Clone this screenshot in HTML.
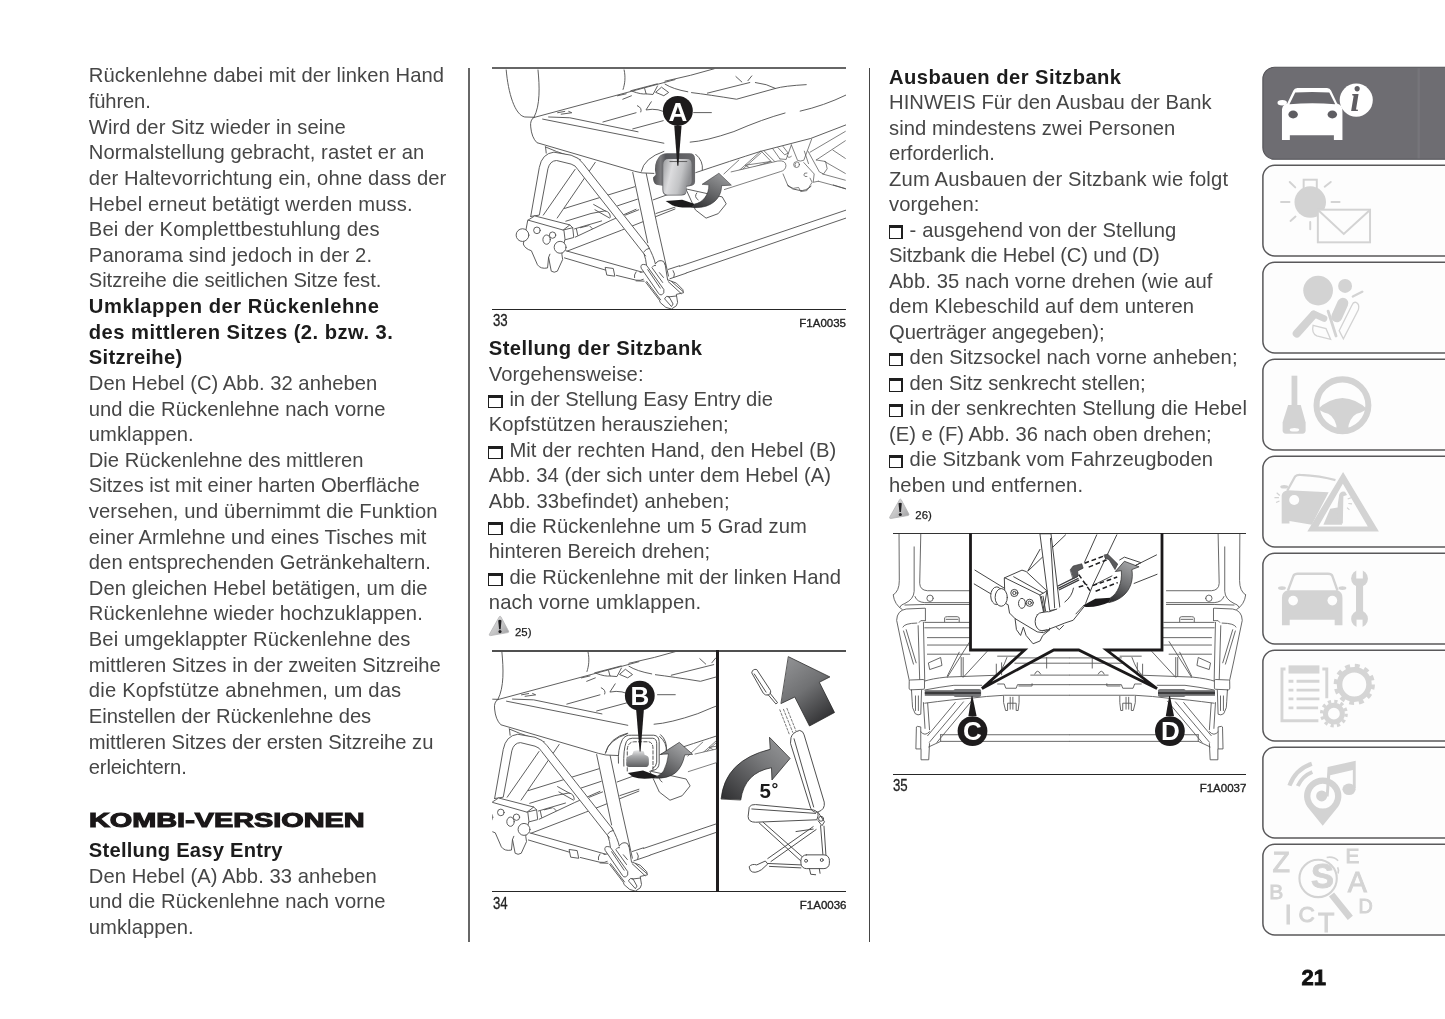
<!DOCTYPE html>
<html lang="de"><head><meta charset="utf-8"><title>21</title>
<style>
html,body{margin:0;padding:0;background:#fff;overflow:hidden}
#pg{position:relative;width:1445px;height:1019px;overflow:hidden;will-change:transform;font-family:"Liberation Sans",sans-serif;color:#464646}
.t,.tb{position:absolute;white-space:pre;font-size:20.2px;line-height:0;height:0}
.tb{font-weight:bold;color:#1c1c1c}
.bx{position:absolute;display:block;box-sizing:border-box;width:14.6px;height:13.4px;border:1.3px solid #1e1e1e;border-top-width:3px;border-right-width:2.6px}
.vl{position:absolute;width:1px;background:#555}
.hl{position:absolute;height:1.6px;background:#3c3c3c}
.cap{position:absolute;font-size:13px;line-height:0;height:0;white-space:pre;color:#222}
.capn{position:absolute;font-size:17px;line-height:0;height:0;white-space:pre;color:#222;transform-origin:left;transform:scaleX(.78);-webkit-text-stroke:.3px #222}
svg{position:absolute;overflow:visible}
</style></head><body><div id="pg">

<!-- text -->
<div class='t' style='left:88.8px;top:75.4px;letter-spacing:0.078px'>Rückenlehne dabei mit der linken Hand</div>
<div class='t' style='left:88.8px;top:101.0px;letter-spacing:-0.143px'>führen.</div>
<div class='t' style='left:88.8px;top:126.6px;letter-spacing:0.042px'>Wird der Sitz wieder in seine</div>
<div class='t' style='left:88.8px;top:152.3px;letter-spacing:0.091px'>Normalstellung gebracht, rastet er an</div>
<div class='t' style='left:88.8px;top:177.9px;letter-spacing:0.105px'>der Haltevorrichtung ein, ohne dass der</div>
<div class='t' style='left:88.8px;top:203.5px;letter-spacing:0.157px'>Hebel erneut betätigt werden muss.</div>
<div class='t' style='left:88.8px;top:229.1px;letter-spacing:0.156px'>Bei der Komplettbestuhlung des</div>
<div class='t' style='left:88.8px;top:254.7px;letter-spacing:0.133px'>Panorama sind jedoch in der 2.</div>
<div class='t' style='left:88.8px;top:280.4px;letter-spacing:-0.075px'>Sitzreihe die seitlichen Sitze fest.</div>
<div class='tb' style='left:88.8px;top:306.0px;letter-spacing:0.545px'>Umklappen der Rückenlehne</div>
<div class='tb' style='left:88.8px;top:331.6px;letter-spacing:0.461px'>des mittleren Sitzes (2. bzw. 3.</div>
<div class='tb' style='left:88.8px;top:357.2px;letter-spacing:0.281px'>Sitzreihe)</div>
<div class='t' style='left:88.8px;top:382.8px;letter-spacing:0.039px'>Den Hebel (C) Abb. 32 anheben</div>
<div class='t' style='left:88.8px;top:408.5px;letter-spacing:0.052px'>und die Rückenlehne nach vorne</div>
<div class='t' style='left:88.8px;top:434.1px;letter-spacing:0.058px'>umklappen.</div>
<div class='t' style='left:88.8px;top:459.7px;letter-spacing:-0.011px'>Die Rückenlehne des mittleren</div>
<div class='t' style='left:88.8px;top:485.3px;letter-spacing:-0.005px'>Sitzes ist mit einer harten Oberfläche</div>
<div class='t' style='left:88.8px;top:510.9px;letter-spacing:0.120px'>versehen, und übernimmt die Funktion</div>
<div class='t' style='left:88.8px;top:536.6px;letter-spacing:0.062px'>einer Armlehne und eines Tisches mit</div>
<div class='t' style='left:88.8px;top:562.2px;letter-spacing:0.062px'>den entsprechenden Getränkehaltern.</div>
<div class='t' style='left:88.8px;top:587.8px;letter-spacing:0.057px'>Den gleichen Hebel betätigen, um die</div>
<div class='t' style='left:88.8px;top:613.4px;letter-spacing:0.126px'>Rückenlehne wieder hochzuklappen.</div>
<div class='t' style='left:88.8px;top:639.0px;letter-spacing:0.093px'>Bei umgeklappter Rückenlehne des</div>
<div class='t' style='left:88.8px;top:664.7px;letter-spacing:-0.008px'>mittleren Sitzes in der zweiten Sitzreihe</div>
<div class='t' style='left:88.8px;top:690.3px;letter-spacing:0.201px'>die Kopfstütze abnehmen, um das</div>
<div class='t' style='left:88.8px;top:715.9px;letter-spacing:-0.053px'>Einstellen der Rückenlehne des</div>
<div class='t' style='left:88.8px;top:741.5px;letter-spacing:-0.025px'>mittleren Sitzes der ersten Sitzreihe zu</div>
<div class='t' style='left:88.8px;top:767.1px;letter-spacing:-0.170px'>erleichtern.</div>
<div class='tb' style='left:88.8px;top:849.9px;letter-spacing:0.234px'>Stellung Easy Entry</div>
<div class='t' style='left:88.8px;top:875.5px;letter-spacing:0.061px'>Den Hebel (A) Abb. 33 anheben</div>
<div class='t' style='left:88.8px;top:901.1px;letter-spacing:0.052px'>und die Rückenlehne nach vorne</div>
<div class='t' style='left:88.8px;top:926.8px;letter-spacing:0.058px'>umklappen.</div>
<div class='tb' style='left:488.8px;top:348.2px;letter-spacing:0.391px'>Stellung der Sitzbank</div>
<div class='t' style='left:488.8px;top:373.6px;letter-spacing:0.067px'>Vorgehensweise:</div>
<i class='bx' style='left:488.4px;top:394.7px'></i><div class='t' style='left:509.4px;top:399.0px;letter-spacing:-0.046px'>in der Stellung Easy Entry die</div>
<div class='t' style='left:488.8px;top:424.4px;letter-spacing:0.027px'>Kopfstützen herausziehen;</div>
<i class='bx' style='left:488.4px;top:445.5px'></i><div class='t' style='left:509.4px;top:449.8px;letter-spacing:0.077px'>Mit der rechten Hand, den Hebel (B)</div>
<div class='t' style='left:488.8px;top:475.2px;letter-spacing:0.062px'>Abb. 34 (der sich unter dem Hebel (A)</div>
<div class='t' style='left:488.8px;top:500.6px;letter-spacing:0.114px'>Abb. 33befindet) anheben;</div>
<i class='bx' style='left:488.4px;top:521.7px'></i><div class='t' style='left:509.4px;top:526.0px;letter-spacing:0.085px'>die Rückenlehne um 5 Grad zum</div>
<div class='t' style='left:488.8px;top:551.4px;letter-spacing:0.013px'>hinteren Bereich drehen;</div>
<i class='bx' style='left:488.4px;top:572.5px'></i><div class='t' style='left:509.4px;top:576.8px;letter-spacing:0.049px'>die Rückenlehne mit der linken Hand</div>
<div class='t' style='left:488.8px;top:602.2px;letter-spacing:0.127px'>nach vorne umklappen.</div>
<div class='tb' style='left:889.0px;top:76.5px;letter-spacing:0.443px'>Ausbauen der Sitzbank</div>
<div class='t' style='left:889.0px;top:102.0px;letter-spacing:0.056px'>HINWEIS Für den Ausbau der Bank</div>
<div class='t' style='left:889.0px;top:127.5px;letter-spacing:0.085px'>sind mindestens zwei Personen</div>
<div class='t' style='left:889.0px;top:153.0px;letter-spacing:-0.058px'>erforderlich.</div>
<div class='t' style='left:889.0px;top:178.5px;letter-spacing:0.168px'>Zum Ausbauen der Sitzbank wie folgt</div>
<div class='t' style='left:889.0px;top:204.1px;letter-spacing:0.063px'>vorgehen:</div>
<i class='bx' style='left:888.6px;top:225.3px'></i><div class='t' style='left:909.6px;top:229.6px;letter-spacing:0.106px'>- ausgehend von der Stellung</div>
<div class='t' style='left:889.0px;top:255.1px;letter-spacing:-0.141px'>Sitzbank die Hebel (C) und (D)</div>
<div class='t' style='left:889.0px;top:280.6px;letter-spacing:0.110px'>Abb. 35 nach vorne drehen (wie auf</div>
<div class='t' style='left:889.0px;top:306.1px;letter-spacing:0.144px'>dem Klebeschild auf dem unteren</div>
<div class='t' style='left:889.0px;top:331.6px;letter-spacing:-0.048px'>Querträger angegeben);</div>
<i class='bx' style='left:888.6px;top:352.8px'></i><div class='t' style='left:909.6px;top:357.1px;letter-spacing:0.074px'>den Sitzsockel nach vorne anheben;</div>
<i class='bx' style='left:888.6px;top:378.3px'></i><div class='t' style='left:909.6px;top:382.6px;letter-spacing:0.013px'>den Sitz senkrecht stellen;</div>
<i class='bx' style='left:888.6px;top:403.8px'></i><div class='t' style='left:909.6px;top:408.1px;letter-spacing:0.048px'>in der senkrechten Stellung die Hebel</div>
<div class='t' style='left:889.0px;top:433.6px;letter-spacing:-0.018px'>(E) e (F) Abb. 36 nach oben drehen;</div>
<i class='bx' style='left:888.6px;top:454.9px'></i><div class='t' style='left:909.6px;top:459.2px;letter-spacing:0.091px'>die Sitzbank vom Fahrzeugboden</div>
<div class='t' style='left:889.0px;top:484.7px;letter-spacing:0.108px'>heben und entfernen.</div>
<!-- column separators -->
<div class="vl" style="left:468.1px;width:1.8px;top:67.5px;height:874.3px;background:#676767"></div>
<div class="vl" style="left:868.7px;width:1.35px;top:67.5px;height:874.3px;background:#454545"></div>
<div class="t" style="left:88.7px;top:820.4px;font-size:19.8px;font-weight:bold;color:#1a1718;transform-origin:left;transform:scaleX(1.458);-webkit-text-stroke:1.05px #1a1718">KOMBI-VERSIONEN</div>
<div class="t" style="left:1301.5px;top:978.0px;font-size:22px;font-weight:bold;color:#111;-webkit-text-stroke:.8px #111">21</div>
<!-- warning icons -->
<svg style="left:0;top:0" width="1445" height="1019" viewBox="0 0 1445 1019">
<defs>
<linearGradient id="wg" x1="0" y1="0" x2="1" y2="1"><stop offset="0" stop-color="#e4e4e4"/><stop offset=".55" stop-color="#c4c4c5"/><stop offset="1" stop-color="#9c9c9e"/></linearGradient>
<g id="warn">
<path d="M10.4,0.6Q11.2,-.3 11.9,.8L19.6,15.2Q20,16.3 18.8,16.6L1.6,19.6Q-.1,19.7 .4,18.3Z" fill="url(#wg)" stroke="#b3b3b4" stroke-width=".8"/>
<path d="M9.2,4.4Q10.9,3.2 12.5,4.4L11.7,13.2H10.1Z" fill="#222123"/><circle cx="11" cy="15.6" r="1.55" fill="#222123"/>
</g>
</defs>
<use href="#warn" x="489" y="616"/>
<use href="#warn" x="889.3" y="498.9"/>
</svg>
<div class="t" style="left:515px;top:632.1px;font-size:11.4px;color:#1c1c1c;-webkit-text-stroke:.25px #1c1c1c">25)</div>
<div class="t" style="left:915.3px;top:514.7px;font-size:11.4px;color:#1c1c1c;-webkit-text-stroke:.25px #1c1c1c">26)</div>

<!-- FIG 33 -->
<div class="hl" style="left:492.2px;top:67.1px;width:354px;height:1.9px;background:#666"></div>
<div class="hl" style="left:492.3px;top:308.8px;width:353.7px;height:1.4px;background:#262626"></div>
<svg style="left:0;top:0" width="1445" height="1019" viewBox="0 0 1445 1019">
<defs>
<clipPath id="c33"><rect x="492.3" y="68.6" width="353.7" height="240.4"/></clipPath>
<linearGradient id="lvA" x1="0" y1="0" x2="1" y2="0"><stop offset="0" stop-color="#4e4e50"/><stop offset=".18" stop-color="#7d7d80"/><stop offset=".3" stop-color="#55565a"/><stop offset="1" stop-color="#6a6a6d"/></linearGradient>
<linearGradient id="lvB" x1="0" y1="0" x2="1" y2=".3"><stop offset="0" stop-color="#9b9c9f"/><stop offset=".35" stop-color="#dcdcde"/><stop offset=".7" stop-color="#c2c3c5"/><stop offset="1" stop-color="#8e8f92"/></linearGradient>
<linearGradient id="arG" x1="0" y1="1" x2=".6" y2="0"><stop offset="0" stop-color="#2e2e30"/><stop offset=".5" stop-color="#626365"/><stop offset="1" stop-color="#929395"/></linearGradient>
<g id="seat33">
<!-- frame, mid-left coords (origin 485,125) -->
<g transform="translate(485,125) scale(.1325)">
<!-- back rails -->
<path d="M600,630L1130,466M1000,610L1150,560M1060,680L1160,640M1270,565L1434,505M1290,668L1434,620"/>
<path d="M610,726L800,668L906,648Q945,655 946,696M820,600L910,650M830,640L940,702M676,784L880,724M682,846L950,720L1140,636M620,952L1030,794L1434,634M690,785L700,832M790,762L810,782M720,775L780,760"/>
<path d="M455,165L540,200L720,262M457,166L462,212"/>
<!-- tube A (diagonal from bracket) -->
<path d="M440,680L680,335M545,702L832,282"/>
<!-- trapezoid + tube B -->
<path d="M345,690L410,320Q430,215 520,205L650,228Q710,245 740,290L1232,915L1226,1010L700,335Q685,305 650,295L540,268Q490,270 475,330L410,680Z" fill="#fff" stroke="none"/><path d="M345,690L410,320Q430,215 520,205L650,228Q710,245 740,290L1232,915M1212,988L700,335Q685,305 650,295L540,268Q490,270 475,330L410,680L345,690"/>
<!-- vertical leg -->
<path d="M1115,356L1217,366L1300,760L1385,1140L1290,1035L1228,889Z" fill="#fff" stroke="none"/>
<path d="M1115,358L1228,889M1217,366L1300,760L1385,1140"/>
<!-- bottom rail from bracket to hinge -->
<path d="M610,949L1180,1109M600,1003L910,1095M910,1075L968,1083L980,1141L922,1133ZM992,1135L1140,1171Q1175,1177 1195,1165"/>
<!-- bracket -->
<path d="M325,718L375,686L640,754L662,775L670,849L602,867L580,975L586,1015L546,1103Q522,1119 500,1103L480,999L472,1079Q420,1089 396,1055L350,949Q300,933 290,901Z" fill="#fff"/>
<path d="M325,718L590,793L640,754M590,793L662,775M596,798L604,863M490,975L480,999"/>
<circle cx="283" cy="831" r="48" fill="#fff"/><circle cx="392" cy="795" r="25"/><ellipse cx="465" cy="865" rx="28" ry="35"/><circle cx="510" cy="831" r="24"/><circle cx="567" cy="923" r="45" fill="#fff"/>
<!-- hinge bottom -->
</g>
<!-- Q1 top-left: cushion -->
<g transform="translate(485,60) scale(.1325)">
<path d="M160,75C175,250 225,415 300,430L370,432M400,75C412,200 418,340 370,432M1050,75C1062,130 1056,180 1042,222"/>
<path d="M362,436L1434,148M370,432Q338,452 345,505Q352,585 392,624L1130,840L1185,852L1275,856"/>
<path d="M480,430L640,436L1155,542M435,446L1350,628M548,398L602,388M575,409L655,398L632,388"/>
<path d="M890,468L1140,398M1115,520L1345,458M1000,270L1065,255M1040,296L1105,270M1150,345Q1188,362 1176,392M1255,315L1215,377L1262,372Q1310,372 1340,386"/>
<path d="M1100,232L1300,180M1112,236Q1180,262 1216,256M1205,215L1216,256L1268,260L1302,196M1290,242L1332,205L1386,245L1352,268Z"/>
<path d="M1180,840Q1200,740 1350,690"/>
</g>
<!-- Q2 top-right -->
<g transform="translate(665,60) scale(.1325)">
<path d="M0,160Q200,118 372,66M0,182Q60,220 172,240M200,246Q330,262 540,296L832,215Q900,195 1066,186M320,250L640,170M682,170Q770,180 835,215M535,125L580,166M655,120L626,156M216,397H350"/>
<path d="M190,620Q310,612 520,540Q740,445 906,400M1020,386Q1200,345 1365,265"/>
<path d="M232,850Q500,760 720,690L1100,592L1365,490"/>
<g transform="translate(264.15,452.8) scale(.7835)">
<path d="M230,520L375,385M345,515L585,300M410,475L590,315M440,435L680,400L490,465ZM590,300L690,405M620,300L720,400M700,275L770,375M750,265L815,335L850,320L800,255"/>
<path d="M1060,310L1400,110M1120,385L1400,200M1280,290L1400,370M1200,400L1400,515M1180,520L1400,580M1140,590L1400,660"/>
<path d="M300,500L750,395Q825,385 828,440Q825,485 775,497L235,670" fill="#fff"/>
<path d="M770,375L830,380L880,240M800,520L850,640Q900,672 950,650L970,690L1030,680L1080,600L1060,560M880,240L940,390Q965,402 1000,388L1075,185M1040,300L1150,500L1190,520L1225,470L1210,400L1120,385M1000,410L1100,520L1090,600L1140,590M1005,300L1045,420M840,345Q850,375 880,350"/>
<circle cx="930" cy="430" r="28"/><path d="M918,445Q905,425 925,412M1030,510Q1000,505 1000,530Q1005,550 1030,545"/>
</g>
<path d="M232,712Q290,760 282,830"/>
</g>
<!-- Q4 bottom-right -->
<g transform="translate(665,185) scale(.1325)">
<path d="M110,614L1365,190M160,664L1365,250"/>
<path d="M160,30L432,90L462,142L402,216L310,250L232,190ZM240,60Q215,90 250,112M925,0Q960,40 1012,40Q1060,50 1102,10M1270,0L1365,30"/>
</g>
<!-- hinge clasp: origin (620,230) scale 12.43 -->
<g transform="translate(620,230) scale(.08045)" stroke-width="11.6">
<path d="M300,300Q322,360 330,440M295,272Q320,236 366,226M345,190Q420,330 440,420M440,420Q480,360 540,390L562,432M400,462Q420,430 442,440M560,420L592,622"/>
<path d="M200,520Q170,560 180,592M250,526L292,520M200,632L300,636M660,505Q690,545 670,586M600,490L740,444M620,606L820,538"/>
<path d="M262,470Q250,430 290,428Q322,428 332,442L545,740Q556,790 520,806Q490,812 480,790Z" fill="#fff"/>
<path d="M345,492L500,722M400,472L530,652M490,530L540,590"/>
<path d="M320,650L490,872L500,902L570,962L640,982L700,942L716,900L700,800L790,780L780,740L700,660L600,622M332,640L505,868M600,642L760,790M640,640L780,762M560,842Q580,810 610,830L660,920L640,952L560,862ZM600,832L700,820"/>
</g>
</g>
</defs>
<g clip-path="url(#c33)" fill="none" stroke="#525252" stroke-width="7" stroke-linecap="round" stroke-linejoin="round">
<use href="#seat33"/>
<!-- lever + arrow (QM) -->
<g transform="translate(610,90) scale(.1325)" stroke="none">
<path d="M345,640Q326,560 368,505Q390,478 430,478H600Q642,478 642,520V690Q642,722 600,727L577,731V770Q572,797 540,797H430Q395,792 395,750V722L350,716Q324,700 325,660Z" fill="url(#lvA)"/>
<path d="M402,562Q402,520 442,520H580Q616,520 616,560V690Q616,716 590,721L575,723V765Q570,790 540,790H432Q402,786 402,750Z" fill="url(#lvB)"/>
<path d="M452,540H580" stroke="#555" stroke-width="7"/>
<path d="M420,838L545,828L640,860L620,886Q520,892 470,870Z" fill="#1b1a1b"/>
<path d="M620,886C745,900 842,832 842,722L916,718L822,628L695,712L746,716C748,790 700,852 640,860Z" fill="url(#arG)" stroke="#2a2a2b" stroke-width="4"/>
<circle cx="512" cy="158" r="113" fill="#1d1b1c"/>
<path d="M485,270H540L516,572H508Z" fill="#1d1b1c"/>
</g>
</g>
<text x="677.8" y="120.6" font-family="Liberation Sans, sans-serif" font-weight="bold" font-size="26" text-anchor="middle" fill="#fff">A</text>
</svg>
<div class="capn" style="left:492.5px;top:320.6px">33</div>
<div class="cap" style="left:746px;width:100px;text-align:right;top:322.7px;font-size:11.5px;-webkit-text-stroke:.35px #222">F1A0035</div>

<!-- FIG 34 -->
<div class="hl" style="left:492.3px;top:650px;width:354.2px;background:#505050"></div>
<div class="hl" style="left:492.3px;top:891.1px;width:354.2px;height:1.4px;background:#262626"></div>
<div style="position:absolute;left:716.3px;top:650px;width:3.1px;height:242px;background:#1f1d1e"></div>
<svg style="left:0;top:0" width="1445" height="1019" viewBox="0 0 1445 1019">
<defs>
<clipPath id="c34"><rect x="492.3" y="651.6" width="224" height="239.6"/></clipPath>
<linearGradient id="hB" x1="0" y1="0" x2="0" y2="1"><stop offset="0" stop-color="#e6e6e7"/><stop offset=".35" stop-color="#a9aaac"/><stop offset="1" stop-color="#5d5e60"/></linearGradient>
<linearGradient id="arB" x1="0" y1="1" x2=".7" y2="0"><stop offset="0" stop-color="#38383a"/><stop offset=".6" stop-color="#7c7d7f"/><stop offset="1" stop-color="#a5a6a8"/></linearGradient>
<linearGradient id="arUp" x1=".8" y1="1" x2=".2" y2="0"><stop offset="0" stop-color="#2c2c2e"/><stop offset=".55" stop-color="#707173"/><stop offset="1" stop-color="#8f9092"/></linearGradient>
<linearGradient id="arRot" x1="0" y1="1" x2="1" y2="0"><stop offset="0" stop-color="#2e2e30"/><stop offset=".6" stop-color="#77787a"/><stop offset="1" stop-color="#9a9b9d"/></linearGradient>
</defs>
<g clip-path="url(#c34)" fill="none" stroke="#525252" stroke-width="7" stroke-linecap="round" stroke-linejoin="round">
<use href="#seat33" transform="translate(-36.1,582.1)"/>
<!-- lever B area, coords origin (590,720) scale 10.193 -->
<g transform="translate(590,720) scale(.098107)" stroke-width="10">
<path d="M300,470Q278,300 330,200Q360,150 420,155H650Q702,160 705,220V440Q700,500 650,512L560,520H330Z" fill="#fff" stroke="none"/>
<path d="M290,440Q280,300 330,200Q360,150 420,155H650Q702,160 705,220V440Q700,500 650,512L622,516M345,470Q338,300 370,222Q385,186 430,186H640Q680,190 680,240V430Q676,480 640,492M720,150Q790,210 780,320M380,135Q200,180 160,330"/>
<path d="M380,520V300Q385,226 450,222H600Q642,230 642,290V520" stroke-dasharray="34 20"/>
<path d="M370,400Q380,370 430,355L445,315Q490,300 550,320L556,355Q600,365 600,400V450Q595,480 560,480H400Q365,476 370,440Z" fill="url(#hB)" stroke="none"/>
<path d="M385,540L540,514L690,570L655,592Q520,612 440,582Z" fill="#1b1a1b" stroke="none"/>
<path d="M655,592Q790,602 870,540Q940,480 966,356L1046,350L910,228L720,350L800,346Q790,440 750,520Q720,560 690,570Z" fill="url(#arB)" stroke="#222" stroke-width="6"/>
</g>
<circle cx="639.8" cy="695.7" r="14.9" fill="#1d1b1c" stroke="none"/>
<path d="M636,708H644L640.6,751.5H639.6Z" fill="#1d1b1c" stroke="none"/>
</g>
<text x="639.9" y="705" font-family="Liberation Sans, sans-serif" font-weight="bold" font-size="26" text-anchor="middle" fill="#fff">B</text>
<!-- right panel: origin (715,645) scale 4.074 -->
<g transform="translate(715,645) scale(.24546)" fill="none" stroke="#4c4c4c" stroke-width="4" stroke-linecap="round" stroke-linejoin="round">
<path d="M300,48L468,130L425,152L487,275L385,330L325,212L270,238Z" fill="url(#arUp)" stroke="#222" stroke-width="3"/>
<path d="M150,112Q153,96 170,100L226,185Q230,200 216,204Q205,206 198,198ZM216,202L248,240L255,235L224,196M160,118L208,192" />
<path d="M264,264L302,362M279,262L317,356M293,258L330,350" stroke-dasharray="9 7" stroke="#777"/>
<path d="M310,376Q315,356 345,348Q359,350 363,366L445,640Q450,670 420,680Q400,686 390,665L308,402ZM322,382L402,660"/>
<path d="M25,626Q40,470 225,425L222,376L306,462L232,550L230,500Q120,520 105,630Z" fill="url(#arRot)" stroke="#222" stroke-width="3"/>
<path d="M140,660Q145,648 165,650L400,672Q421,676 420,696L415,712L165,722Q135,722 135,700ZM150,668L410,686"/>
<circle cx="432" cy="708" r="10"/><path d="M420,682L446,720L436,736L420,716"/>
<path d="M180,725L350,880M196,722L366,872M400,740L215,870M412,752L228,882M430,736L440,860M444,738L452,858M215,890L352,896M222,902L350,908M330,760L400,750"/>
<rect x="350" y="855" width="116" height="56" rx="22" fill="#fff"/><circle cx="371" cy="879" r="6"/><circle cx="435" cy="876" r="6"/>
<path d="M385,912L390,934L410,936M425,912L428,930M140,902Q150,890 170,896L205,880L215,892L190,915Q160,935 145,920Z"/>
</g>
<text x="759.6" y="798.3" font-family="Liberation Sans, sans-serif" font-weight="bold" font-size="20.5" fill="#1a1a1a">5</text>
<text x="771.6" y="794.5" font-family="Liberation Sans, sans-serif" font-weight="bold" font-size="17" fill="#1a1a1a">°</text>
</svg>
<div class="capn" style="left:492.5px;top:903.6px">34</div>
<div class="cap" style="left:746.5px;width:100px;text-align:right;top:905.4px;font-size:11.5px;-webkit-text-stroke:.35px #222">F1A0036</div>

<!-- FIG 35 -->
<div class="hl" style="left:892.6px;top:532.5px;width:353.8px;height:1.5px;background:#333"></div>
<div class="hl" style="left:892.6px;top:773.9px;width:353.8px;height:1.4px;background:#262626"></div>
<svg style="left:0;top:0" width="1445" height="1019" viewBox="0 0 1445 1019">
<defs>
<clipPath id="c35"><rect x="892.6" y="534" width="353.8" height="240"/></clipPath>
<clipPath id="c35b"><rect x="972" y="534" width="188.4" height="114.4"/></clipPath>
<linearGradient id="arC" x1=".2" y1="1" x2=".6" y2="0"><stop offset="0" stop-color="#2f2f31"/><stop offset=".5" stop-color="#6f7072"/><stop offset="1" stop-color="#a2a3a5"/></linearGradient>
<!-- left half of background, coords: origin (885,525) scale 7.547 ; P3 y = P1 y - 943.4 -->
<g id="bg35">
<g transform="translate(885,525) scale(.1325)">
<path d="M106,70L108,420Q108,500 62,528M62,528Q70,600 130,638M220,165V500Q218,560 150,592Q120,600 112,620M270,70L262,440Q264,492 320,496H660M226,540Q240,582 300,586H660M150,604L300,600H660"/>
<circle cx="340" cy="553" r="24"/>
<path d="M300,628L160,634Q90,645 88,720L150,1019L200,1250M135,770Q145,742 240,740M140,800L215,1050M160,790L235,1040"/>
<path d="M305,630V722M258,735L270,722L300,722M250,760L262,1175M290,735L300,1175"/>
<path d="M450,730V700Q455,692 470,692H545Q560,694 560,702V730M462,712H550"/>
<path d="M300,735H680M300,776H700M320,850H700M320,906H680M320,975H640"/>
<path d="M640,880L470,1150M770,955L590,1150M560,960L470,1140M330,1040L420,1000L430,1060L340,1090Z"/>
<!-- joint and post (P3 + 943.4) -->
<path d="M182,1180Q180,1172 190,1170L290,1166Q298,1168 298,1178V1232Q296,1240 288,1240L192,1244Q182,1242 182,1234Z" fill="#fff"/>
<path d="M200,1246L205,1330Q200,1380 228,1424Q250,1440 270,1428L276,1246M230,1290V1400M252,1290V1400"/>
<path d="M290,1340L302,1535M322,1345L336,1545M236,1530Q234,1522 244,1520L270,1524V1690H236ZM270,1560Q300,1600 336,1560M272,1692V1772H330L336,1650"/>
<!-- main beam -->
<path d="M300,1178Q350,1160 462,1148L840,1134Q880,1110 920,1000M300,1245Q420,1222 520,1210H730M300,1345Q500,1318 640,1308Q760,1292 900,1285H1391"/>
<path d="M840,1134V1050M880,1040V1130M590,1000V1140M575,1000V1140"/>
<path d="M850,1200H900L912,1232H990L1000,1205H1391M1010,1215H1110V1198M1000,1003H1391M980,1043H1391M1100,1133H1391M1130,1125Q1150,1080 1175,1125M1220,1000V1080M850,990H1010"/>
<path d="M895,1292V1340L910,1400H925V1345H990V1400H1005L1012,1340V1292M945,1300V1390M965,1300V1390"/>
<!-- bottom bar -->
<path d="M420,1583H1391M420,1633H1391M420,1583V1633L330,1675M592,1335L335,1640M530,1340L322,1590M652,1330L392,1640"/>
</g>
</g>
</defs>
<g clip-path="url(#c35)" fill="none" stroke="#585858" stroke-width="6.8" stroke-linecap="round" stroke-linejoin="round">
<use href="#bg35"/>
<use href="#bg35" transform="translate(2138.9,0) scale(-1,1)"/>
<!-- handles -->
<g stroke="none">
<rect x="924.8" y="690.2" width="56" height="5.6" fill="#6b6b6d"/><rect x="953.5" y="689" width="27.6" height="8" rx="2" fill="#77787a"/><rect x="924.8" y="692.2" width="56" height="1.6" fill="#2e2e30"/>
<rect x="1158" y="690.2" width="57" height="5.6" fill="#6b6b6d"/><rect x="1158" y="689" width="27.6" height="8" rx="2" fill="#77787a"/><rect x="1158" y="692.2" width="57" height="1.6" fill="#2e2e30"/>
</g>
</g>
<!-- callout box -->
<rect x="970.5" y="534" width="191.5" height="116" fill="#fff" stroke="none"/>
<g clip-path="url(#c35b)" fill="none" stroke="#454545" stroke-width="7.2" stroke-linecap="round" stroke-linejoin="round">
<g transform="translate(968,530) scale(.138408)">
<path d="M50,290L262,420M45,390L200,482M705,35L435,295M520,140L432,296M930,35L842,232M1075,35L900,402"/>
<path d="M1190,266L1362,180M1200,386L1366,320M1096,216L1130,196L1250,236L1200,262"/>
<!-- vertical leg -->
<path d="M520,30L590,582L665,570L600,30Z" fill="#fff"/><path d="M596,60L626,562"/>
<!-- tube to right -->
<path d="M560,600L640,572Q720,540 760,440L850,400L900,402L850,540L760,652L700,672L650,692L570,722Z" fill="#fff" stroke="none"/>
<path d="M570,722L650,692L700,672L760,652L850,540M640,705L660,720L690,690M780,606L832,550M850,530L900,402L1040,332M560,600L640,572M700,520Q752,480 762,420"/>
<!-- bracket box -->
<path d="M265,345L390,290L420,300L570,440L545,590L575,600L590,720L545,742L500,736L340,640L300,600L290,540L270,530Z" fill="#fff"/>
<path d="M265,345L520,470L545,590M520,470L570,440M330,338L542,456M530,480L552,590M542,478L562,592"/>
<path d="M340,640L350,720L380,762L400,702L420,762L470,822L520,802L540,762L590,722"/>
<ellipse cx="208" cy="475" rx="44" ry="64" fill="#fff"/><ellipse cx="240" cy="487" rx="44" ry="64" fill="#fff"/>
<circle cx="335" cy="455" r="26"/><circle cx="335" cy="455" r="12"/><ellipse cx="390" cy="530" rx="25" ry="36"/><circle cx="446" cy="526" r="26"/><circle cx="446" cy="526" r="12"/>
<path d="M500,610L570,725" /><ellipse cx="535" cy="662" rx="50" ry="66" fill="#fff"/><ellipse cx="560" cy="655" rx="50" ry="66" fill="#fff" stroke="none"/><path d="M535,596L575,590M540,728L590,718"/>
<!-- lever solid (dark) -->
<path d="M650,405L790,335M655,420L795,350M660,432L800,362" stroke="#3a3a3c" stroke-width="9"/>
<path d="M740,286L760,260L822,244L832,276L792,296L796,332L760,352Z" fill="#5a5a5c" stroke="#3a3a3c" stroke-width="5"/>
<!-- dashed lever -->
<path d="M842,240L988,186M872,268L1002,216M800,322L884,442M800,412L862,394M900,402L1078,340M922,442L1082,380" stroke="#1d1d1f" stroke-width="11" stroke-dasharray="34 20" stroke-linecap="butt"/>
<path d="M985,180L1010,175L1082,246L1062,286L1020,216L990,200Z" fill="#5a5a5c" stroke="#3a3a3c" stroke-width="5"/>
<!-- arrow -->
<path d="M830,546L920,496L1030,490L1020,522Q930,562 850,556Z" fill="#1b1a1b" stroke="none"/>
<path d="M1020,524C1120,504 1205,420 1184,286L1236,266L1130,226L1064,300L1108,294C1116,380 1080,462 1030,490Z" fill="url(#arC)" stroke="#222" stroke-width="5"/>
</g>
</g>
<!-- callout border + leaders -->
<g fill="none" stroke="#1b191a" stroke-width="2.8" stroke-linejoin="miter">
<path d="M970.5,533.2V650H1024.7L982,688.6L1053.8,650H1078.7L1157,688.6L1106.4,650H1162V533.2"/>
</g>
<!-- labels -->
<circle cx="972.5" cy="731.1" r="14.9" fill="#1d1b1c"/><path d="M968.4,716H976.6L972.4,696H971.6Z" fill="#1d1b1c"/>
<circle cx="1169.9" cy="731.1" r="14.9" fill="#1d1b1c"/><path d="M1165.8,716H1174L1170,696H1169.2Z" fill="#1d1b1c"/>
<text x="972.5" y="740.4" font-family="Liberation Sans, sans-serif" font-weight="bold" font-size="26" text-anchor="middle" fill="#fff">C</text>
<text x="1170.3" y="740.4" font-family="Liberation Sans, sans-serif" font-weight="bold" font-size="26" text-anchor="middle" fill="#fff">D</text>
</svg>
<div class="capn" style="left:893px;top:785.6px">35</div>
<div class="cap" style="left:1146.4px;width:100px;text-align:right;top:787.5px;font-size:11.5px;-webkit-text-stroke:.35px #222">F1A0037</div>

<!-- sidebar tabs -->
<svg style="left:1255px;top:60px" width="190" height="890" viewBox="0 0 190 890" font-family="Liberation Sans, sans-serif">
<defs>
<path id="tb" d="M1500,40 H150 A90,90 0 0 0 60,130 V640 A90,90 0 0 0 150,730 H1500 Z"/>
</defs>
<!-- tab 1 (active) -->
<g transform="translate(0,0) scale(.131492)">
<path d="M1500,55 H150 A90,90 0 0 0 60,145 V665 A90,90 0 0 0 150,755 H1500 Z" fill="#6e6d72" stroke="#56555a" stroke-width="9"/>
<rect x="1236" y="62" width="18" height="686" fill="#76757a"/>
<ellipse cx="207" cy="325" rx="36" ry="21" fill="#fff"/>
<path d="M205,608 V400 Q198,342 245,330 L292,232 Q300,213 322,213 H548 Q570,213 578,232 L625,330 Q670,342 665,400 V608 H600 V572 H265 V608 Z" fill="#fff"/>
<path d="M262,337 L306,247 Q435,238 565,247 L610,337 Q435,322 262,337 Z" fill="#69686d"/>
<ellipse cx="290" cy="415" rx="36" ry="30" fill="#5e5d62"/>
<ellipse cx="588" cy="415" rx="36" ry="30" fill="#5e5d62"/>
<circle cx="770" cy="305" r="126" fill="#fff"/>
<text x="762" y="388" font-family="Liberation Serif, serif" font-style="italic" font-weight="bold" font-size="265" text-anchor="middle" fill="#5e5d62">i</text>
</g>
<!-- tab 2 -->
<g transform="translate(0,100) scale(.131492)" fill="none" stroke="#d3d3d3" stroke-width="15" stroke-linecap="round">
<use href="#tb" fill="#fdfdfd" stroke="#59585a" stroke-width="11.5"/>
<rect x="370" y="150" width="100" height="70" stroke-linejoin="miter"/>
<circle cx="420" cy="320" r="120" fill="#d3d3d3" stroke="none"/>
<path d="M198,320H262M582,320H643M264,167L306,208M530,203L576,167M270,463L308,430M420,472V526"/>
<rect x="478" y="378" width="397" height="248" fill="#fdfdfd"/>
<path d="M486,386L675,562L868,386"/>
</g>
<!-- tab 3 -->
<g transform="translate(0,197) scale(.131492)" fill="none" stroke="#d3d3d3" stroke-width="10" stroke-linecap="round">
<use href="#tb" fill="#fdfdfd" stroke="#59585a" stroke-width="11.5"/>
<circle cx="480" cy="255" r="113" fill="#d3d3d3" stroke="none"/>
<circle cx="685" cy="220" r="53" fill="#d3d3d3" stroke="none"/>
<path d="M668,352L622,455" stroke-width="84"/>
<path d="M445,440L318,582" stroke-width="62"/>
<path d="M445,432L525,468" stroke-width="50"/>
<path d="M556,412L616,600" stroke-width="22"/>
<path d="M744,300L815,264" stroke-width="18"/>
<path d="M768,345Q798,358 786,402L672,622L640,560L738,365Q748,340 768,345Z"/>
<path d="M442,520L540,545L575,626L470,600Q428,580 442,520Z"/>
</g>
<!-- tab 4 -->
<g transform="translate(0,294) scale(.131492)" fill="#d3d3d3" stroke="none">
<use href="#tb" fill="#fdfdfd" stroke="#59585a" stroke-width="11.5"/>
<rect x="278" y="165" width="44" height="235"/>
<path d="M252,388H348L385,520V580Q385,606 360,606H236Q210,606 210,580V520Z"/>
<ellipse cx="300" cy="576" rx="36" ry="14" fill="#fdfdfd"/>
<circle cx="665" cy="390" r="197" fill="none" stroke="#d3d3d3" stroke-width="46"/>
<path d="M478,420Q560,340 665,335Q770,340 852,420L805,445Q735,455 712,540L705,605H625L618,540Q595,455 525,445Z"/>
</g>
<!-- tab 5 -->
<g transform="translate(0,391) scale(.131492)" fill="#d3d3d3" stroke="none">
<use href="#tb" fill="#fdfdfd" stroke="#59585a" stroke-width="11.5"/>
<path d="M203,552V338Q208,305 248,298L560,314L432,560L262,532V552Z"/>
<path d="M245,302L305,194Q318,180 345,182Q500,190 612,222" fill="none" stroke="#d3d3d3" stroke-width="17"/>
<ellipse cx="222" cy="272" rx="30" ry="14"/>
<circle cx="298" cy="372" r="38" fill="#fdfdfd"/>
<path d="M148,355H182M165,318L188,338M160,392L186,380" fill="none" stroke="#d3d3d3" stroke-width="9"/>
<path d="M670,160L942,612H398Z M668,250L858,574H482Z" fill-rule="evenodd"/>
<path d="M520,560L572,440L640,428L662,560Z"/>
<path d="M640,335Q650,300 685,310L700,335L672,345L668,552H622L630,400Z"/>
<path d="M705,365L730,355M710,400L738,402M700,430L718,448" fill="none" stroke="#d3d3d3" stroke-width="8"/>
</g>
<!-- tab 6 -->
<g transform="translate(0,488) scale(.131492)" fill="#d3d3d3" stroke="none">
<use href="#tb" fill="#fdfdfd" stroke="#59585a" stroke-width="11.5"/>
<path d="M205,588V380Q203,335 250,322H622Q668,335 665,380V588H606V546H264V588Z"/>
<path d="M250,325L292,212Q300,196 325,196H555Q580,196 588,212L628,325" fill="none" stroke="#d3d3d3" stroke-width="18"/>
<ellipse cx="205" cy="305" rx="30" ry="15"/><ellipse cx="665" cy="305" rx="30" ry="15"/>
<circle cx="290" cy="400" r="37" fill="#fdfdfd"/><circle cx="588" cy="400" r="37" fill="#fdfdfd"/>
<rect x="768" y="250" width="54" height="260"/>
<circle cx="795" cy="232" r="64"/><rect x="770" y="150" width="50" height="82" fill="#fdfdfd"/>
<circle cx="795" cy="540" r="64"/><rect x="772" y="545" width="46" height="80" fill="#fdfdfd"/>
</g>
<!-- tab 7 -->
<g transform="translate(0,585) scale(.131492)" fill="none" stroke="#d5d5d5" stroke-width="22">
<use href="#tb" fill="#fdfdfd" stroke="#59585a" stroke-width="11.5"/>
<path d="M232,182H205V576H482M512,182H546V405"/>
<rect x="255" y="155" width="235" height="62" fill="#d5d5d5" stroke="none"/>
<path d="M255,276H292M316,276H490M255,343H292M316,343H490M255,410H292M316,410H490M255,478H292M316,478H480"/>
<circle cx="755" cy="300" r="112" stroke-width="42"/>
<circle cx="755" cy="300" r="142" stroke-width="30" stroke-dasharray="37.2 37.15"/>
<circle cx="600" cy="522" r="64" stroke-width="38"/>
<circle cx="600" cy="522" r="93" stroke-width="26" stroke-dasharray="24.4 24.3"/>
</g>
<!-- tab 8 -->
<g transform="translate(0,682) scale(.131492)" fill="#d3d3d3" stroke="none">
<use href="#tb" fill="#fdfdfd" stroke="#59585a" stroke-width="11.5"/>
<path d="M515,636L398,492A142,142 0 1 1 632,492Z M515,318A94,94 0 1 0 515.1,318Z" fill-rule="evenodd"/>
<circle cx="507" cy="410" r="42"/>
<path d="M262,332A275,275 0 0 1 432,165" fill="none" stroke="#d3d3d3" stroke-width="32"/>
<path d="M325,335A205,205 0 0 1 436,228" fill="none" stroke="#d3d3d3" stroke-width="30"/>
<path d="M552,190L766,143V352H744V212L572,252L560,415H538Z"/>
<ellipse cx="715" cy="360" rx="50" ry="44"/>
</g>
<!-- tab 9 -->
<g transform="translate(0,779) scale(.131492)" fill="#d4d4d4" stroke="#d4d4d4" stroke-width="7">
<use href="#tb" fill="#fdfdfd" stroke="#59585a" stroke-width="11.5"/>
<text x="133" y="250" font-size="218">Z</text>
<text x="688" y="184" font-size="158">E</text>
<text x="706" y="400" font-size="218">A</text>
<text x="788" y="563" font-size="150">D</text>
<text x="108" y="458" font-size="160">B</text>
<text x="224" y="648" font-size="205">I</text>
<text x="330" y="628" font-size="172">C</text>
<text x="480" y="708" font-size="205">T</text>
<text x="425" y="372" font-size="262" font-weight="bold">S</text>
<circle cx="480" cy="300" r="142" fill="none" stroke="#d3d3d3" stroke-width="16"/>
<path d="M582,422L725,600" fill="none" stroke="#d3d3d3" stroke-width="50"/>
<path d="M545,140Q600,130 632,165M628,215Q640,235 632,262" fill="none" stroke="#d3d3d3" stroke-width="12"/>
</g>
</svg>

</div></body></html>
